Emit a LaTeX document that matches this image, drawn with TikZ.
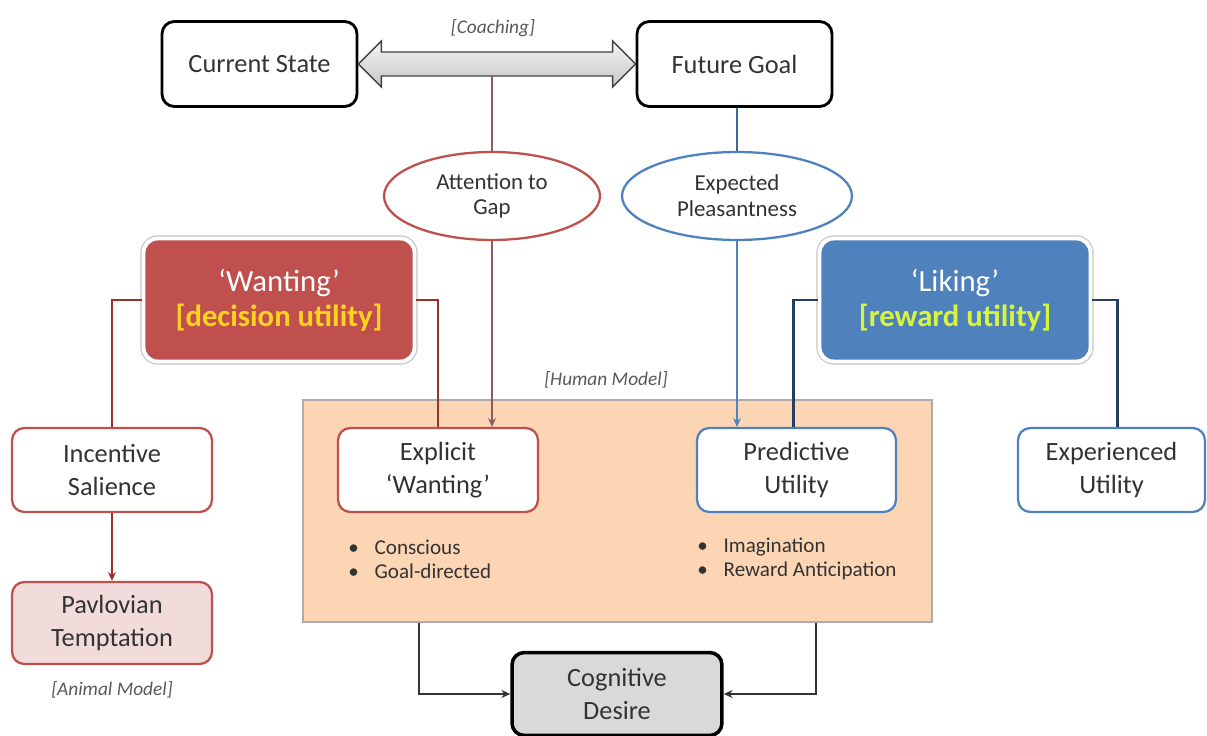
\documentclass[tikz,border=0pt]{standalone}
\usepackage{fontspec}
\setmainfont{Carlito}
\usetikzlibrary{shapes.geometric,arrows.meta,calc,shadows}
\definecolor{wred}{HTML}{C0504D}
\definecolor{lblue}{HTML}{4F81BD}
\definecolor{dred}{HTML}{9E2F2B}
\definecolor{dblue}{HTML}{243F60}
\definecolor{brownl}{HTML}{8A5C5C}
\definecolor{peach}{HTML}{FCD5B5}
\definecolor{pinkf}{HTML}{F2DCDB}
\definecolor{txt}{HTML}{333333}
\definecolor{ylw}{HTML}{FFD21F}
\definecolor{lime}{HTML}{D6F53C}
\definecolor{cogf}{HTML}{D9D9D9}
\begin{document}
\begin{tikzpicture}[x=0.02cm,y=-0.02cm,
  box/.style={rectangle, rounded corners=7pt, align=center, text=txt,
    font=\fontsize{15}{18.7}\selectfont, minimum width=4cm, minimum height=1.68cm,
    inner sep=2pt, fill=white},
  blackbox/.style={box, draw=black, line width=1.6pt, minimum width=3.9cm, minimum height=1.7cm},
  redbox/.style={box, draw=wred, line width=1.3pt},
  bluebox/.style={box, draw=lblue, line width=1.3pt},
  oval/.style={ellipse, align=center, text=txt, font=\fontsize{13}{14.7}\selectfont,
    inner sep=0pt, minimum height=1.76cm, fill=white, line width=1.3pt},
  bigbox/.style={rectangle, rounded corners=8pt, align=center, text=white,
    font=\fontsize{17.5}{20}\selectfont, minimum width=5.42cm, minimum height=2.46cm,
    drop shadow={shadow xshift=1.2pt, shadow yshift=-1.5pt, opacity=0.3},
    preaction={draw=gray!45, line width=3.6pt}, draw=white, line width=2.2pt},
  tag/.style={font=\fontsize{11}{13}\selectfont\itshape, text=black!65},
  bul/.style={font=\fontsize{12}{13.6}\selectfont, text=txt, align=left, anchor=west, inner sep=0pt},
  redln/.style={draw=dred, line width=1.2pt},
  blueln/.style={draw=dblue, line width=1.2pt},
  arr/.style={-{Stealth[length=5pt,width=4.5pt]}},
  blkln/.style={draw=black!80, line width=1pt}
]
\useasboundingbox (0,0) rectangle (1207,736);

% human model background
\node[draw=gray!65, fill=peach, line width=0.8pt, minimum width=12.58cm,
  minimum height=4.44cm, inner sep=0pt] (hum) at (617.5,511) {};

% top boxes
\node[blackbox] (cur) at (259.5,64) {Current State};
\node[blackbox] (fut) at (734.5,64) {Future Goal};
\node[tag] (coach) at (493,28) {[Coaching]};

% double arrow
\draw[draw=gray!50!black, line width=0.8pt, top color=gray!8, bottom color=gray!45, line join=miter]
  (cur.east) -- ++(23,-23) -- ++(0,11) -- ($(fut.west)+(-23,-12)$) -- ++(0,-11)
  -- (fut.west) -- ++(-23,23) -- ++(0,-11) -- ($(cur.east)+(23,12)$) -- ++(0,11) -- cycle;
\coordinate (cbot) at (493,76);

% ellipses
\node[oval, draw=wred, minimum width=4.32cm] (att) at (492,196) {Attention to\\Gap};
\node[oval, draw=lblue, minimum width=4.6cm] (exp) at (737,196) {Expected\\Pleasantness};

% big boxes
\node[bigbox, fill=wred] (want) at (279,300) {‘Wanting’\\{\bfseries\color{ylw}[decision utility]}};
\node[bigbox, fill=lblue] (lik) at (955,300) {‘Liking’\\{\bfseries\color{lime}[reward utility]}};

% lower boxes
\node[redbox] (inc) at (112,470) {Incentive\\Salience};
\node[redbox, fill=pinkf, minimum height=1.64cm] (pav) at (112,623) {Pavlovian\\Temptation};
\node[tag] (animal) at (112,690) {[Animal Model]};
\node[tag] (human) at (606,380) {[Human Model]};
\node[redbox] (expw) at (438,470) {Explicit\\‘Wanting’};
\node[bluebox, minimum width=3.98cm] (pred) at (796.5,470) {Predictive\\Utility};
\node[bluebox, minimum width=3.74cm] (expu) at (1111.5,470) {Experienced\\Utility};

\node[bul] (b1) at (348,559) {\textbullet\hspace{9pt}Conscious\\\textbullet\hspace{9pt}Goal-directed};
\node[bul] (b2) at (697,559) {\textbullet\hspace{9pt}Imagination\\\textbullet\hspace{9pt}Reward Anticipation};

\node[box, draw=black, line width=2pt, fill=cogf, minimum width=4.2cm, minimum height=1.66cm] (cog) at (617,694) {Cognitive\\Desire};

% connectors
\draw[draw=brownl, line width=1pt] (att.north |- cbot) -- (att.north);
\draw[draw=brownl, line width=1pt, arr] (att.south) -- (att.south |- expw.north);
\draw[draw=lblue!80!black, line width=1pt] (exp.north |- fut.south) -- (exp.north);
\draw[draw=lblue, line width=1pt, arr] (exp.south) -- (exp.south |- pred.north);

\draw[redln] (want.west) -| (inc.north);
\draw[redln] (want.east) -| (expw.north);
\draw[redln, arr] (inc.south) -- (pav.north);

\draw[blueln] (lik.west) -| ($(pred.north)+(-3,0)$);
\draw[blueln] (lik.east) -| ($(expu.north)+(6,0)$);

\draw[blkln, arr] ($(hum.south west)+(117,0)$) |- (cog.west);
\draw[blkln, arr] ($(hum.south east)+(-117,0)$) |- (cog.east);
\end{tikzpicture}
\end{document}
